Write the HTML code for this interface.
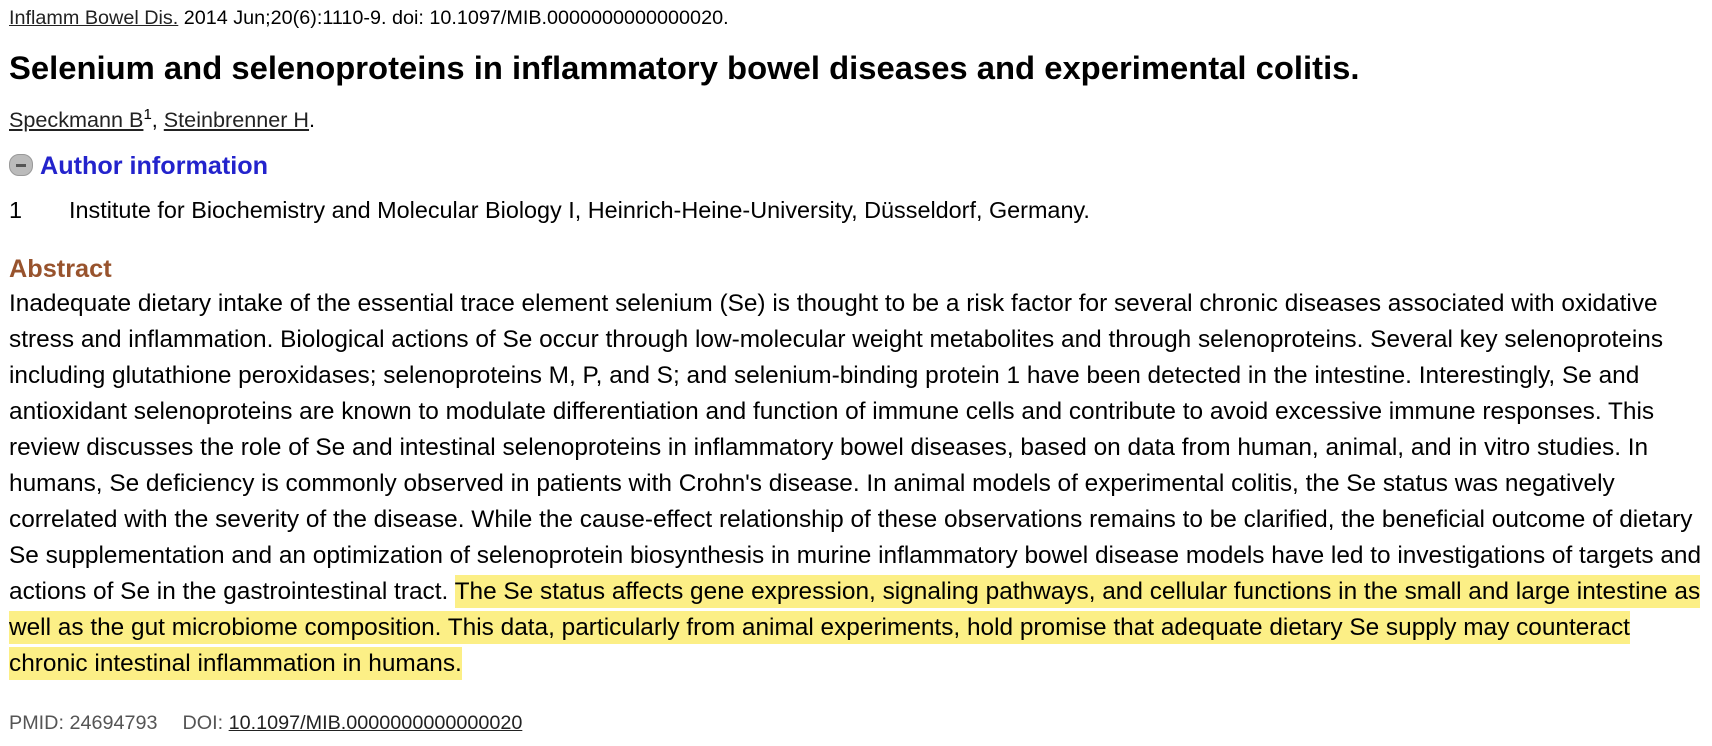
<!DOCTYPE html>
<html><head><meta charset="utf-8"><style>
body{margin:0;background:#fff;width:1712px;height:746px;overflow:hidden;font-family:"Liberation Sans",Arial,sans-serif;color:#000}
.l{position:absolute;left:9px;white-space:nowrap;line-height:30px}
a{color:#222;text-decoration:underline}
.hl{background:#fcef86;padding:3px 0}
</style></head><body>
<div class="l" style="top:3px;font-size:19.8px"><a>Inflamm Bowel Dis.</a> 2014 Jun;20(6):1110-9. doi: 10.1097/MIB.0000000000000020.</div>
<div class="l" style="top:51px;font-size:32.8px;font-weight:bold;line-height:34px">Selenium and selenoproteins in inflammatory bowel diseases and experimental colitis.</div>
<div class="l" style="top:105px;font-size:21.6px"><a>Speckmann B</a><sup style="font-size:15px;line-height:0">1</sup>, <a>Steinbrenner H</a>.</div>
<div class="l" style="top:151px;font-size:25.2px;font-weight:bold;color:#2323cc"><span style="display:inline-block;width:22px;height:20px;border-radius:10px;background:#bbb;border:1px solid #999;vertical-align:-2px;margin-right:7px;position:relative"><span style="position:absolute;left:6px;top:9px;width:10px;height:3px;background:#555"></span></span>Author information</div>
<div class="l" style="top:195px;font-size:23.4px">1<span style="display:inline-block;width:47px"></span>Institute for Biochemistry and Molecular Biology I, Heinrich-Heine-University, Düsseldorf, Germany.</div>
<div class="l" style="top:254px;font-size:25.3px;font-weight:bold;color:#98532d">Abstract</div>
<div class="l" style="top:286px;font-size:24.4px;line-height:36px">
Inadequate dietary intake of the essential trace element selenium (Se) is thought to be a risk factor for several chronic diseases associated with oxidative<br>
stress and inflammation. Biological actions of Se occur through low-molecular weight metabolites and through selenoproteins. Several key selenoproteins<br>
including glutathione peroxidases; selenoproteins M, P, and S; and selenium-binding protein 1 have been detected in the intestine. Interestingly, Se and<br>
antioxidant selenoproteins are known to modulate differentiation and function of immune cells and contribute to avoid excessive immune responses. This<br>
review discusses the role of Se and intestinal selenoproteins in inflammatory bowel diseases, based on data from human, animal, and in vitro studies. In<br>
humans, Se deficiency is commonly observed in patients with Crohn's disease. In animal models of experimental colitis, the Se status was negatively<br>
correlated with the severity of the disease. While the cause-effect relationship of these observations remains to be clarified, the beneficial outcome of dietary<br>
Se supplementation and an optimization of selenoprotein biosynthesis in murine inflammatory bowel disease models have led to investigations of targets and<br>
actions of Se in the gastrointestinal tract. <span class="hl">The Se status affects gene expression, signaling pathways, and cellular functions in the small and large intestine as</span><br>
<span class="hl">well as the gut microbiome composition. This data, particularly from animal experiments, hold promise that adequate dietary Se supply may counteract</span><br>
<span class="hl">chronic intestinal inflammation in humans.</span></div>
<div class="l" style="top:708px;font-size:19.8px;color:#555">PMID: 24694793<span style="display:inline-block;width:25px"></span>DOI: <a>10.1097/MIB.0000000000000020</a></div>
</body></html>
